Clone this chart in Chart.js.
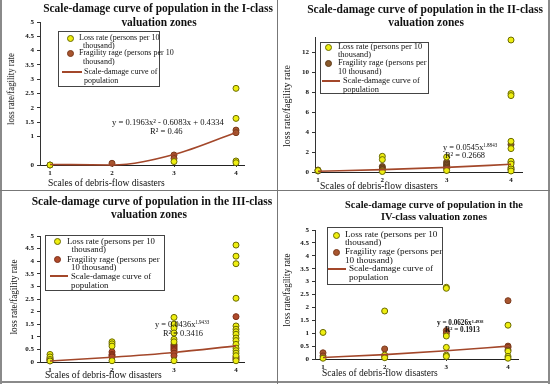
<!DOCTYPE html>
<html><head><meta charset="utf-8">
<script src="https://cdn.jsdelivr.net/npm/chart.js@4"></script>
<style>
html,body{margin:0;padding:0;background:#fff;}
#wrap{position:relative;width:550px;height:384px;overflow:hidden;background:#fff;}
canvas{position:absolute;left:0;top:0;}
.t{position:absolute;white-space:nowrap;font-family:'Liberation Serif','Times New Roman',serif;color:#111;line-height:1;}
.t sup{font-size:0.6em;vertical-align:0.5em;line-height:0;}
.ln{position:absolute;background:#8a8a8a;}
.mk{position:absolute;width:5px;height:5px;border-radius:50%;border:1px solid;}
.lg{position:absolute;border:1px solid #444;background:#fff;}
</style></head><body><div id="wrap"></div>
<script>
// ---------- data ----------
const scales = [1, 2, 3, 4];
const yTicksHalf = [0, 0.5, 1, 1.5, 2, 2.5, 3, 3.5, 4, 4.5, 5];
const yTicksI = [0, 1, 1.5, 2, 2.5, 3, 3.5, 4, 4.5, 5];
const yTicksII = [0, 2, 4, 6, 8, 10, 12];
const legendLabels = ['Loss rate (persons per 10 thousand)', 'Fragility rage (persons per 10 thousand)', 'Scale-damage curve of population'];
const xTitle = 'Scales of debris-flow disasters';
const yTitle = 'loss rate/fagility rate';

// Panel I (values grouped by scale 1..4)
const p1Loss  = [[0], [], [0.12], [2.68, 1.63, 0.14, 0.08]];
const p1Frag  = [[0], [0.06], [0.35, 0.23], [1.22, 1.13]];
const p1Curve = [0.02, 0.0, 0.37, 1.14];
// Panel II
const p2Loss  = [[0.15], [1.57, 1.24, 0.05], [1.5, 0.15], [13.2, 7.84, 7.64, 3.07, 2.34, 1.07, 0.8, 0.3, 0.1]];
const p2Frag  = [[0.2, 0.1], [0.55, 0.4, 0.25], [1.0, 0.8, 0.65, 0.5, 0.35], [2.75, 0.95, 0.45, 0.25]];
const p2Curve = [0.08, 0.24, 0.46, 0.77];
// Panel III
const p3Loss  = [[0.3, 0.2, 0.1, 0.04], [0.8, 0.72, 0.63, 0.05], [1.77, 1.5, 1.35, 1.15, 0.9, 0.8, 0.05],
                 [4.64, 4.2, 3.9, 2.53, 1.43, 1.3, 1.2, 1.1, 0.95, 0.85, 0.7, 0.55, 0.45, 0.35, 0.25, 0.05]];
const p3Frag  = [[0.15, 0.1, 0.05], [0.4, 0.3, 0.25, 0.2], [0.7, 0.65, 0.6, 0.55, 0.5, 0.45, 0.35, 0.25], [1.8, 0.2, 0.15, 0.1]];
const p3Curve = [0.04, 0.19, 0.38, 0.64];
// Panel IV
const p4Loss  = [[1.03, 0.03], [1.86, 0.15, 0.05], [2.78, 2.74, 0.89, 0.45, 0.15, 0.1], [1.31, 0.3, 0.1, 0.03]];
const p4Frag  = [[0.24, 0.12], [0.39, 0.1], [1.1, 1.0], [2.26, 0.5, 0.45, 0.35]];
const p4Curve = [0.06, 0.17, 0.32, 0.5];

// ---------- layout / style ----------
const SERIF = "'Liberation Serif','Times New Roman',serif";
const wrap = document.getElementById('wrap');
const CURVE = '#a3472a';
const LOSS_FILL = '#eeee10', LOSS_EDGE = '#6a6a00';

const panels = [
  { loss: p1Loss, frag: p1Frag, curve: p1Curve, yTicks: yTicksI, ymax: 5,
    left: 40, right: 244, top: 22, bottom: 165, x1: 50, x4: 236,
    fragFill: '#a8552f', fragEdge: '#7a3a1c',
    title: [['Scale-damage curve of population in the I-class', 158, 9, 230], ['valuation zones', 159, 23]],
    xt: [48, 183, 117], yt: [11, 89, 72],
    eq: [['y = 0.1963x² - 0.6083x + 0.4334', 112, 122, 8.6, 'normal'], ['R² = 0.46', 150, 131, 8.6, 'normal']],
    box: [58, 31, 158, 85], lfs: 8.0, mLoss: [70, 38], mFrag: [70, 53], line: [62, 82, 72],
    lt: [['Loss rate (persons per 10', 79, 38], ['thousand)', 83, 45.5], ['Fragility rage (persons per 10', 79, 53],
         ['thousand)', 83, 62], ['Scale-damage curve of', 84, 72], ['population', 84, 81]] },
  { loss: p2Loss, frag: p2Frag, curve: p2Curve, yTicks: yTicksII, ymax: 13.5,
    left: 315, right: 522, top: 37, bottom: 172, x1: 318, x4: 511,
    fragFill: '#8a5a2c', fragEdge: '#5e3b18',
    title: [['Scale-damage curve of population in the II-class', 425, 10, 236], ['valuation zones', 426, 23]],
    xt: [320, 186, 118], yt: [287, 106, 82],
    eq: [['y = 0.0545x<sup>1.8843</sup>', 443, 148, 8.4, 'normal'], ['R² = 0.2668', 445, 156, 8.4, 'normal']],
    box: [320, 42, 427, 92], lfs: 8.4, mLoss: [328, 47], mFrag: [328, 63], line: [322, 340, 81],
    lt: [['Loss rate (persons per 10', 338, 47], ['thousand)', 338, 54.5], ['Fragility rage (persons per', 338, 63],
         ['10 thousand)', 338, 71.5], ['Scale-damage curve of', 343, 81], ['population', 343, 90]] },
  { loss: p3Loss, frag: p3Frag, curve: p3Curve, yTicks: yTicksHalf, ymax: 5,
    left: 40, right: 244, top: 236, bottom: 362, x1: 50, x4: 236,
    fragFill: '#b04a2a', fragEdge: '#7e2f18',
    title: [['Scale-damage curve of population in the III-class', 152, 202, 241], ['valuation zones', 149, 215]],
    xt: [45, 375, 117], yt: [14, 297, 75],
    eq: [['y = 0.0436x<sup>1.9433</sup>', 155, 325, 8.4, 'normal'], ['R² = 0.3416', 163, 334, 8.4, 'normal']],
    box: [45, 235, 163, 289], lfs: 8.75, mLoss: [57, 241], mFrag: [57, 259], line: [50, 68, 276],
    lt: [['Loss rate (persons per 10', 67, 241], ['thousand)', 71.5, 249], ['Fragility rage (persons per', 67, 259],
         ['10 thousand)', 71, 267], ['Scale-damage curve of', 71, 276], ['population', 71, 285]] },
  { loss: p4Loss, frag: p4Frag, curve: p4Curve, yTicks: yTicksHalf, ymax: 5,
    left: 315, right: 518, top: 230, bottom: 359, x1: 323, x4: 508,
    fragFill: '#a8552f', fragEdge: '#7a3a1c',
    title: [['Scale-damage curve of population in the', 434, 205, 178], ['IV-class valuation zones', 434, 217]],
    xt: [322, 374, 116], yt: [287, 290, 73],
    eq: [['y = 0.0626x<sup>1.4938</sup>', 437, 324, 7.2, 'bold'], ['R² = 0.1913', 445, 331, 7.2, 'bold']],
    box: [327, 227, 441, 283], lfs: 9.2, mLoss: [336, 235], mFrag: [336, 252], line: [328, 346, 269],
    lt: [['Loss rate (persons per 10', 345, 235], ['thousand)', 345, 243], ['Fragility rage (persons per', 345, 252],
         ['10 thousand)', 345, 260.5], ['Scale-damage curve of', 349, 269], ['population', 349, 278]] }
];

// ---------- helpers ----------
const mctx = document.createElement('canvas').getContext('2d');
function fitSize(text, weight, width) {
  mctx.font = weight + ' 100px ' + SERIF;
  return 100 * width / mctx.measureText(text).width;
}
function txt(html, x, y, size, weight, anchor, rotate) {
  const d = document.createElement('div');
  d.className = 't';
  d.innerHTML = html;
  d.style.left = x + 'px';
  d.style.top = y + 'px';
  d.style.fontSize = size + 'px';
  d.style.fontWeight = weight || 'normal';
  let tr = (anchor === 'c' ? 'translate(-50%,-50%)' : 'translate(0,-50%)');
  if (rotate) tr += ' rotate(-90deg)';
  d.style.transform = tr;
  wrap.appendChild(d);
  return d;
}
function box(cls, l, t, w, h, css) {
  const d = document.createElement('div');
  d.className = cls;
  d.style.left = l + 'px'; d.style.top = t + 'px';
  d.style.width = w + 'px'; d.style.height = h + 'px';
  Object.assign(d.style, css || {});
  wrap.appendChild(d);
  return d;
}
const toPts = arr => arr.flatMap((vals, i) => vals.map(v => ({ x: scales[i], y: v })));

function makePanel(P) {
  const cv = document.createElement('canvas');
  cv.width = 550; cv.height = 384;
  wrap.appendChild(cv);
  const k = (P.x4 - P.x1) / 3;
  const xmin = 1 - (P.x1 - P.left) / k, xmax = 4 + (P.right - P.x4) / k;
  const YW = 30, XH = 12;
  new Chart(cv, {
    type: 'scatter',
    data: { datasets: [
      { type: 'line', label: legendLabels[2], data: P.curve.map((v, i) => ({ x: scales[i], y: v })),
        borderColor: CURVE, borderWidth: 1.6, pointRadius: 0, cubicInterpolationMode: 'monotone', fill: false, clip: false },
      { label: legendLabels[0], data: toPts(P.loss), backgroundColor: LOSS_FILL, borderColor: LOSS_EDGE,
        borderWidth: 1, pointRadius: 3, clip: false },
      { label: legendLabels[1], data: toPts(P.frag), backgroundColor: P.fragFill, borderColor: P.fragEdge,
        borderWidth: 1, pointRadius: 3, clip: false }
    ] },
    options: {
      responsive: false, animation: false, events: [],
      layout: { padding: { left: P.left - YW, top: P.top, right: 550 - P.right, bottom: 384 - P.bottom - XH } },
      plugins: { legend: { display: false }, title: { display: false }, tooltip: { enabled: false } },
      scales: {
        x: { type: 'linear', min: xmin, max: xmax,
          afterFit: s => { s.height = XH; },
          afterBuildTicks: s => { s.ticks = scales.map(v => ({ value: v })); },
          grid: { drawOnChartArea: false, tickLength: 2, color: '#333' },
          border: { color: '#222', width: 1 },
          ticks: { font: { family: SERIF, size: 7, weight: 'bold' }, color: '#111', padding: 2, maxRotation: 0, callback: v => String(v) } },
        y: { type: 'linear', min: 0, max: P.ymax,
          afterFit: s => { s.width = YW; },
          afterBuildTicks: s => { s.ticks = P.yTicks.map(v => ({ value: v })); },
          grid: { drawOnChartArea: false, tickLength: 3, color: '#333' },
          border: { color: '#333', width: 1 },
          ticks: { font: { family: SERIF, size: 7, weight: 'bold' }, color: '#111', padding: 3, callback: v => String(v) } }
      }
    }
  });

  // titles (both lines share the size fitted on line 1)
  const tsz = fitSize(P.title[0][0], 'bold', P.title[0][3]);
  P.title.forEach(([s, cx, cy]) => txt(s, cx, cy, tsz, 'bold', 'c'));
  // axis titles
  txt(xTitle, P.xt[0], P.xt[1], fitSize(xTitle, 'normal', P.xt[2]), 'normal', 'l');
  const yt = txt(yTitle, P.yt[0], P.yt[1], fitSize(yTitle, 'normal', P.yt[2]) * 1.12, 'normal', 'c', false);
  yt.style.transform = 'translate(-50%,-50%) rotate(-90deg) scaleX(0.893)';
  // equations
  P.eq.forEach(([s, x, y, sz, w]) => txt(s, x, y, sz, w, 'l'));
  // legend
  const [bl, bt, br, bb] = P.box;
  box('lg', bl, bt, br - bl, bb - bt);
  box('mk', P.mLoss[0] - 3.5, P.mLoss[1] - 3.5, 5, 5, { background: LOSS_FILL, borderColor: LOSS_EDGE });
  box('mk', P.mFrag[0] - 3.5, P.mFrag[1] - 3.5, 5, 5, { background: P.fragFill, borderColor: P.fragEdge });
  box('ln', P.line[0], P.line[2] - 1, P.line[1] - P.line[0], 1.6, { background: CURVE });
  P.lt.forEach(([s, x, y]) => txt(s, x, y, P.lfs, 'normal', 'l'));
}

panels.forEach(makePanel);

// frame lines
box('ln', 0, 0, 2, 384);
box('ln', 548, 0, 2, 384);
box('ln', 0, 381, 550, 2);
box('ln', 277, 0, 1, 384, { background: '#777' });
box('ln', 0, 190, 550, 1, { background: '#777' });
</script>
</body></html>
